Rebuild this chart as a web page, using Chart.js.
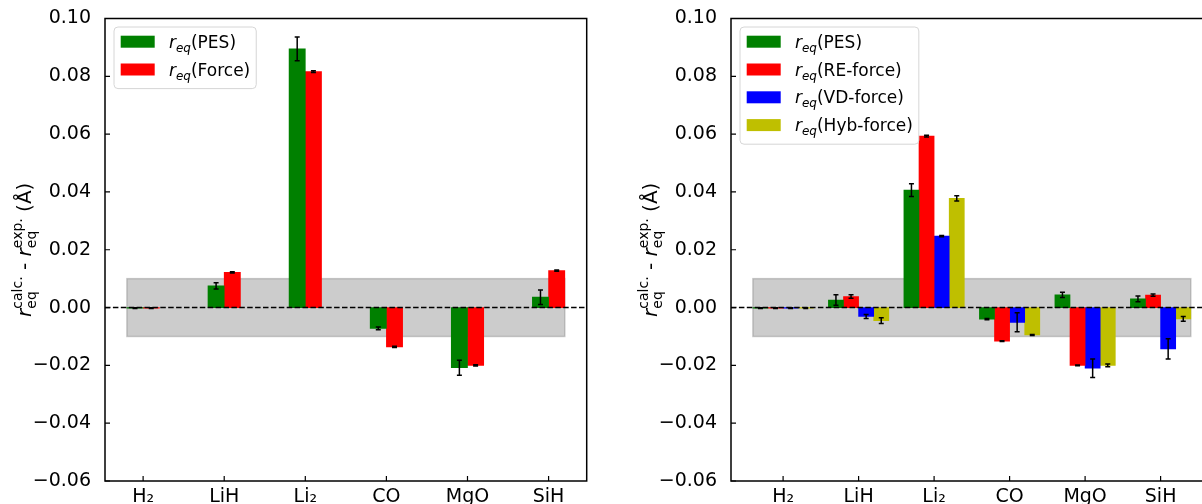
<!DOCTYPE html>
<html>
<head>
<meta charset="utf-8">
<script src="https://cdn.jsdelivr.net/npm/chart.js@4.4.0/dist/chart.umd.min.js"></script>
<style>
html, body { margin: 0; padding: 0; background: #fff; overflow: hidden; }
#wrap { position: relative; width: 1202px; height: 504px; overflow: hidden; }
.panel { position: absolute; top: 0; width: 600px; height: 504px; }
#p1 { left: 0; }
#p2 { left: 626px; }
</style>
</head>
<body>
<div id="wrap">
  <div class="panel" id="p1"><canvas id="c1"></canvas></div>
  <div class="panel" id="p2"><canvas id="c2"></canvas></div>
</div>
<script>
// Data
const categories = ['H\u2082', 'LiH', 'Li\u2082', 'CO', 'MgO', 'SiH'];
const xTicks = [0, 1, 2, 3, 4, 5];
const yTicks = [-0.06, -0.04, -0.02, 0.00, 0.02, 0.04, 0.06, 0.08, 0.10];
const bandLimit = 0.01;

// left panel
const pesLeft      = [-0.0002, 0.0075, 0.0895, -0.0072, -0.0208, 0.0036];
const pesLeftErr   = [ 0.0001, 0.0011, 0.0041,  0.0005,  0.0026, 0.0025];
const forceLeft    = [-0.0002, 0.0122, 0.0816, -0.0136, -0.0200, 0.0128];
const forceLeftErr = [ 0.0001, 0.0002, 0.0003,  0.0002,  0.0002, 0.0002];

// right panel
const pesRight    = [-0.0002, 0.0026, 0.0406, -0.0040,  0.0044,  0.0030];
const pesRightErr = [ 0.0001, 0.0018, 0.0022,  0.0002,  0.0009,  0.0010];
const reRight     = [-0.0002, 0.0038, 0.0593, -0.0116, -0.0200,  0.0043];
const reRightErr  = [ 0.0001, 0.0006, 0.0003,  0.0001,  0.0001,  0.0004];
const vdRight     = [-0.0002, -0.0031, 0.0247, -0.0051, -0.0210, -0.0143];
const vdRightErr  = [ 0.0001, 0.0007, 0.0002,  0.0033,  0.0032,  0.0035];
const hybRight    = [-0.0002, -0.0045, 0.0378, -0.0095, -0.0200, -0.0039];
const hybRightErr = [ 0.0001, 0.0010, 0.0009,  0.0002,  0.0005,  0.0008];

const barWidth = 0.2;
const FONT = '"DejaVu Sans"';
Chart.defaults.font.family = FONT;
Chart.defaults.color = '#000';

function rich(ctx, groups, x, y, draw) {
    let cx = x;
    for (const g of groups) {
        let w = 0;
        for (const p of g) {
            ctx.font = p.f;
            if (draw) ctx.fillText(p.t, cx, y + (p.dy || 0));
            w = Math.max(w, ctx.measureText(p.t).width);
        }
        cx += w;
    }
    return cx - x;
}

const leg = '17px ' + FONT, legI = 'italic 17px ' + FONT, legS = 'italic 12px ' + FONT;
const lab = '20px ' + FONT, labI = 'italic 20px ' + FONT, labS = '14px ' + FONT;

const yLabel = [
    [{ t: 'r', f: labI }],
    [{ t: 'calc.', f: labS, dy: -9 }, { t: 'eq', f: labS, dy: 5 }],
    [{ t: ' - ', f: lab }],
    [{ t: 'r', f: labI }],
    [{ t: 'exp.', f: labS, dy: -9 }, { t: 'eq', f: labS, dy: 5 }],
    [{ t: ' (\u00c5)', f: lab }]
];

const decor = {
    id: 'decor',
    beforeDatasetsDraw(chart, args, o) {
        const { ctx } = chart, x = chart.scales.x, y = chart.scales.y;
        const x0 = x.getPixelForValue(o.bandFrom), x1 = x.getPixelForValue(o.bandTo);
        const y0 = y.getPixelForValue(bandLimit), y1 = y.getPixelForValue(-bandLimit);
        ctx.save();
        ctx.fillStyle = 'rgba(128,128,128,0.4)';
        ctx.fillRect(x0, y0, x1 - x0, y1 - y0);
        ctx.strokeStyle = 'rgba(128,128,128,0.4)';
        ctx.lineWidth = 1.5;
        ctx.strokeRect(x0, y0, x1 - x0, y1 - y0);
        ctx.restore();
    },
    afterDatasetsDraw(chart, args, o) {
        const { ctx, chartArea: a } = chart, y = chart.scales.y;
        ctx.save();
        // zero line
        ctx.strokeStyle = '#000';
        ctx.lineWidth = 1.5;
        ctx.setLineDash([5.5, 2.4]);
        const y0 = y.getPixelForValue(0);
        ctx.beginPath(); ctx.moveTo(a.left, y0); ctx.lineTo(a.right, y0); ctx.stroke();
        ctx.setLineDash([]);
        // error bars
        chart.data.datasets.forEach((ds, di) => {
            const meta = chart.getDatasetMeta(di);
            ds.data.forEach((pt, i) => {
                const px = meta.data[i].x;
                const e = ds.errors[i];
                const t = y.getPixelForValue(pt.y + e), b = y.getPixelForValue(pt.y - e);
                ctx.beginPath();
                ctx.moveTo(px, t); ctx.lineTo(px, b);
                ctx.moveTo(px - 2.5, t); ctx.lineTo(px + 2.5, t);
                ctx.moveTo(px - 2.5, b); ctx.lineTo(px + 2.5, b);
                ctx.stroke();
            });
        });
        ctx.restore();
    },
    afterDraw(chart) {
        const { ctx, chartArea: a } = chart, x = chart.scales.x, y = chart.scales.y;
        ctx.save();
        // frame + inward ticks
        ctx.strokeStyle = '#000';
        ctx.lineWidth = 1.5;
        ctx.strokeRect(a.left, a.top, a.right - a.left, a.bottom - a.top);
        ctx.lineWidth = 1.2;
        ctx.beginPath();
        y.ticks.forEach((t, i) => {
            const py = y.getPixelForTick(i);
            ctx.moveTo(a.left, py); ctx.lineTo(a.left + 5, py);
        });
        x.ticks.forEach((t, i) => {
            const px = x.getPixelForTick(i);
            ctx.moveTo(px, a.bottom); ctx.lineTo(px, a.bottom - 5);
        });
        ctx.stroke();

        // legend
        const dss = chart.data.datasets;
        const bx = a.left + 9, by = a.top + 8.5, rowH = 27.8;
        ctx.textBaseline = 'alphabetic';
        let maxW = 0;
        const rows = dss.map(ds => [[{ t: 'r', f: legI }], [{ t: 'eq', f: legS, dy: 4 }], [{ t: '(' + ds.label + ')', f: leg }]]);
        rows.forEach(r => { maxW = Math.max(maxW, rich(ctx, r, 0, 0, false)); });
        const bw = 55 + maxW + 6, bh = dss.length * rowH + 6;
        ctx.fillStyle = 'rgba(255,255,255,0.8)';
        ctx.strokeStyle = '#d6d6d6';
        ctx.lineWidth = 1;
        ctx.beginPath();
        ctx.roundRect(bx, by, bw, bh, 4);
        ctx.fill(); ctx.stroke();
        dss.forEach((ds, i) => {
            const cy = by + 14.7 + i * rowH;
            ctx.fillStyle = ds.backgroundColor;
            ctx.fillRect(bx + 6.7, cy - 6, 34, 12);
            ctx.fillStyle = '#000';
            rich(ctx, rows[i], bx + 55, cy + 6, true);
        });

        // y axis title
        ctx.translate(31, (a.top + a.bottom) / 2);
        ctx.rotate(-Math.PI / 2);
        ctx.fillStyle = '#000';
        const w = rich(ctx, yLabel, 0, 0, false);
        rich(ctx, yLabel, -w / 2, 0, true);
        ctx.restore();
    }
};

function makeChart(id, series, errs, names, colors, offsets) {
    const half = Math.max(...offsets) + barWidth / 2;
    const lo = -half, hi = xTicks[xTicks.length - 1] + half;
    const margin = 0.05 * (hi - lo);
    const datasets = series.map((vals, s) => ({
        label: names[s],
        data: vals.map((v, i) => ({ x: xTicks[i] + offsets[s], y: v })),
        errors: errs[s],
        backgroundColor: colors[s],
        borderWidth: 0,
        grouped: false,
        categoryPercentage: 1,
        barPercentage: 1
    }));
    return new Chart(document.getElementById(id), {
        type: 'bar',
        data: { datasets },
        options: {
            responsive: true,
            maintainAspectRatio: false,
            animation: false,
            layout: { padding: { top: 18.5, right: 13.3, left: 0, bottom: 0 } },
            plugins: {
                legend: { display: false },
                tooltip: { enabled: false },
                decor: { bandFrom: lo, bandTo: hi }
            },
            scales: {
                x: {
                    type: 'linear',
                    offset: false,
                    min: lo - margin,
                    max: hi + margin,
                    grid: { display: false, offset: false },
                    border: { display: false },
                    afterBuildTicks: s => { s.ticks = xTicks.map(v => ({ value: v })); },
                    afterFit: s => { s.height = 23; },
                    ticks: {
                        padding: -3,
                        autoSkip: false,
                        maxRotation: 0,
                        font: { size: 19 },
                        color: '#000',
                        callback: v => categories[v]
                    }
                },
                y: {
                    min: yTicks[0],
                    max: yTicks[yTicks.length - 1],
                    grid: { display: false },
                    border: { display: false },
                    afterBuildTicks: s => { s.ticks = yTicks.map(v => ({ value: v })); },
                    afterFit: s => { s.width = 105; },
                    ticks: {
                        padding: 6,
                        font: { size: 19 },
                        color: '#000',
                        callback: v => (v < 0 ? '\u2212' : '') + Math.abs(v).toFixed(2)
                    }
                }
            }
        },
        plugins: [decor]
    });
}

makeChart('c1', [pesLeft, forceLeft], [pesLeftErr, forceLeftErr],
    ['PES', 'Force'], ['#008000', '#ff0000'], [-0.1, 0.1]);
makeChart('c2', [pesRight, reRight, vdRight, hybRight],
    [pesRightErr, reRightErr, vdRightErr, hybRightErr],
    ['PES', 'RE-force', 'VD-force', 'Hyb-force'],
    ['#008000', '#ff0000', '#0000ff', '#bfbf00'], [-0.3, -0.1, 0.1, 0.3]);
</script>
</body>
</html>
